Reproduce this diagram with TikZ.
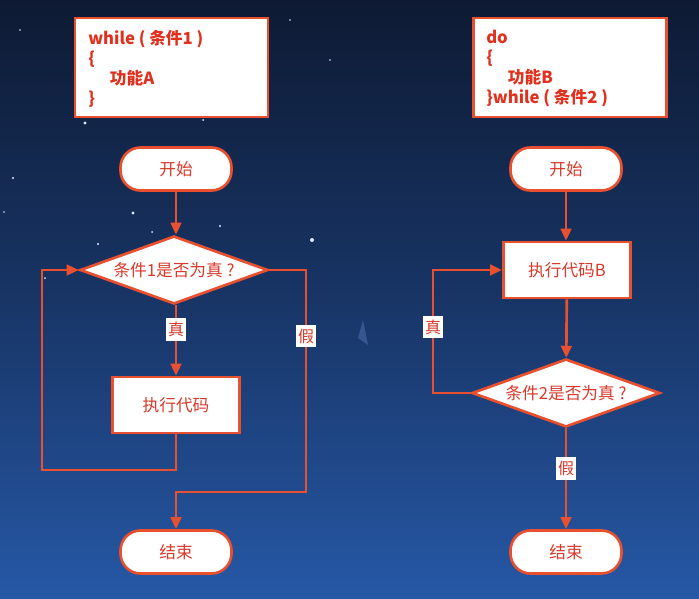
\documentclass[tikz,border=0pt]{standalone}
\usepackage{fontspec}
\setmainfont{Noto Sans CJK SC}
\usetikzlibrary{shapes.geometric,arrows.meta}
\definecolor{lineR}{HTML}{E8502F}
\definecolor{textR}{HTML}{D8392B}
\definecolor{codeR}{HTML}{E0301E}
\definecolor{bgtop}{HTML}{0E1A33}
\definecolor{bgmid}{HTML}{183566}
\definecolor{bgbot}{HTML}{2658A6}
\definecolor{starc}{HTML}{DDE8FF}
\tikzset{
  base/.style={draw=lineR,line width=2pt,fill=white,text=textR,font=\fontsize{12.5}{14}\selectfont,inner sep=0pt},
  term/.style={base,rounded corners=15pt,minimum width=83.25pt,minimum height=32.25pt},
  proc/.style={base,minimum width=95.5pt,minimum height=42pt},
  cond/.style={base,shape=diamond,shape aspect=2.8,minimum width=141pt,minimum height=51pt},
  codebox/.style={draw=lineR,line width=2pt,fill=white,minimum width=144.75pt,minimum height=74.25pt},
  codetext/.style={text=codeR,font=\bfseries\fontsize{12.5}{15}\selectfont,align=left,anchor=north west,inner sep=0pt},
  arr/.style={draw=lineR,line width=2pt,-{Triangle[length=9pt,width=8pt]}},
  lbl/.style={fill=white,text=textR,font=\fontsize{12}{13}\selectfont,inner xsep=1.5pt,inner ysep=3pt},
  star/.style={fill=starc,draw=none}
}
\begin{document}
\begin{tikzpicture}[x=0.75pt,y=-0.75pt]
\shade[top color=bgtop,bottom color=bgbot,middle color=bgmid] (0,0) rectangle (699,599);
\useasboundingbox (0,0) rectangle (699,599);
% stars
\foreach \sx/\sy/\sr in {13/178/1.2,133/213/1.6,98/244/1.2,152/232/1.0,220/226/1.2,312/240/2.0,45/278/1.0,85/123/1.6,203/120/1.0,4/212/0.9,330/60/0.8,290/20/0.8,20/30/0.9}
  \fill[star] (\sx,\sy) circle[radius=\sr];
\fill[color=cyan!40!blue!60,opacity=0.35] (363,320) -- (368,345) -- (358,338) -- cycle;
% code boxes
\node[codebox] (codeA) at (171.5,67.5) {};
\node[codetext] (codeAtext) at (88,30) {while ( 条件1 )\\\{\\\hspace*{1.3em}功能A\\\}};
\node[codebox] (codeB) at (570,67.5) {};
\node[codetext] (codeBtext) at (486,30) {do\\\{\\\hspace*{1.3em}功能B\\\}while ( 条件2 )};
% left flowchart
\node[term] (s1) at (176,169) {开始};
\node[cond] (d1) at (174,270) {条件1是否为真 ?};
\node[proc] (e1) at (176,405) {执行代码};
\node[term] (t1) at (176,552) {结束};
\coordinate (l1) at (42,470);
\coordinate (r1) at (306,492);
\draw[arr] (s1) -- (s1|-d1.north);
\draw[arr] (e1.north|-d1.south) -- node[lbl,pos=0.34] (y1) {真} (e1);
\draw[arr] (e1.south) |- (l1) |- (d1.west);
\draw[arr] (d1.east) -| (r1) -| (t1.north);
\node[lbl] (n1) at (306,336) {假};
% right flowchart
\node[term] (s2) at (566,169) {开始};
\node[proc] (b2) at (567,270) {执行代码B};
\node[cond] (d2) at (566,393) {条件2是否为真 ?};
\node[term] (t2) at (566,552) {结束};
\coordinate (l2) at (433,393);
\draw[arr] (s2) -- (s2|-b2.north);
\draw[arr] (b2) -- (d2);
\draw[arr] (d2.west) -- (l2) |- (b2.west);
\node[lbl] (y2) at (433,327) {真};
\draw[arr] (d2) -- node[lbl,pos=0.4] (n2) {假} (t2);
\end{tikzpicture}
\end{document}
